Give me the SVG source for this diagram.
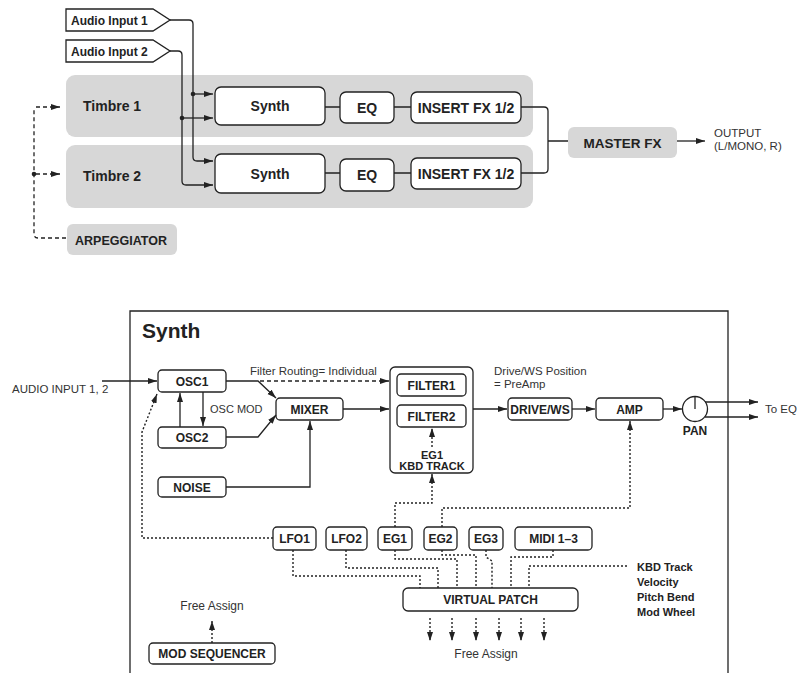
<svg xmlns="http://www.w3.org/2000/svg" width="798" height="673" viewBox="0 0 798 673">
<style>
.bg{fill:#fff}
.gray{fill:#d7d7d7;stroke:none}
.box{fill:#fff;stroke:#222;stroke-width:1.3}
.ln{fill:none;stroke:#222;stroke-width:1.3}
.dash{fill:none;stroke:#222;stroke-width:1.3;stroke-dasharray:4 3}
.dot{fill:none;stroke:#222;stroke-width:1.4;stroke-dasharray:2 2}
.b{font-family:"Liberation Sans",Arial,sans-serif;font-weight:bold;fill:#222}
.r{font-family:"Liberation Sans",Arial,sans-serif;fill:#333}
.m{text-anchor:middle}
</style>
<defs>
<marker id="ah" markerUnits="userSpaceOnUse" markerWidth="9" markerHeight="7" refX="9" refY="3.5" orient="auto">
<path d="M0,0.5 L9,3.5 L0,6.5 Z" fill="#222"/>
</marker>
</defs>
<rect class="bg" width="798" height="673"/>

<!-- top section nodes -->
<g id="timbre1">
<rect class="gray" x="66" y="75" width="467" height="62" rx="9"/>
<text class="b" x="83" y="111" font-size="14">Timbre 1</text>
</g>
<g id="timbre2">
<rect class="gray" x="66" y="145" width="467" height="63" rx="9"/>
<text class="b" x="83" y="181" font-size="14">Timbre 2</text>
</g>
<g id="audio-input-1">
<path class="box" d="M66,9 H153 L170,20 L153,31 H66 Z"/>
<text class="b" x="71" y="25" font-size="12">Audio Input 1</text>
</g>
<g id="audio-input-2">
<path class="box" d="M66,40 H153 L170,51 L153,62 H66 Z"/>
<text class="b" x="71" y="56" font-size="12">Audio Input 2</text>
</g>
<g id="synth-t1">
<rect class="box" x="215" y="87" width="110" height="38" rx="6"/>
<text class="b m" x="270" y="111" font-size="14">Synth</text>
</g>
<g id="eq-t1">
<rect class="box" x="340" y="92" width="54" height="31" rx="6"/>
<text class="b m" x="367" y="112.5" font-size="14">EQ</text>
</g>
<g id="ifx-t1">
<rect class="box" x="411" y="92" width="110" height="31" rx="6"/>
<text class="b m" x="466" y="112.5" font-size="14">INSERT FX 1/2</text>
</g>
<g id="synth-t2">
<rect class="box" x="215" y="154" width="110" height="39" rx="6"/>
<text class="b m" x="270" y="178.5" font-size="14">Synth</text>
</g>
<g id="eq-t2">
<rect class="box" x="340" y="159" width="54" height="32" rx="6"/>
<text class="b m" x="367" y="180" font-size="14">EQ</text>
</g>
<g id="ifx-t2">
<rect class="box" x="411" y="158" width="110" height="31" rx="6"/>
<text class="b m" x="466" y="178.5" font-size="14">INSERT FX 1/2</text>
</g>
<g id="master-fx">
<rect class="gray" x="568" y="127" width="109" height="31" rx="6"/>
<text class="b m" x="622.5" y="147.5" font-size="13.5">MASTER FX</text>
</g>
<g id="output">
<text class="r" x="714" y="137" font-size="11.5">OUTPUT</text>
<text class="r" x="714" y="150" font-size="11.5">(L/MONO, R)</text>
</g>
<g id="arpeggiator">
<rect class="gray" x="67" y="224" width="110" height="31" rx="6"/>
<text class="b" x="75" y="245" font-size="12.5">ARPEGGIATOR</text>
</g>

<!-- bottom section nodes -->
<g id="synth-frame">
<path class="ln" d="M130,673 V311 H728 V673"/>
<text class="b" x="142" y="338" font-size="21">Synth</text>
</g>
<g id="audio-input-label">
<text class="r" x="12" y="393" font-size="11.5">AUDIO INPUT 1, 2</text>
</g>
<g id="osc1">
<rect class="box" x="158" y="370" width="68" height="22" rx="4"/>
<text class="b m" x="192" y="385.5" font-size="12">OSC1</text>
</g>
<g id="osc2">
<rect class="box" x="158" y="427" width="68" height="21" rx="4"/>
<text class="b m" x="192" y="442" font-size="12">OSC2</text>
</g>
<g id="noise">
<rect class="box" x="158" y="477" width="68" height="20" rx="4"/>
<text class="b m" x="192" y="491.5" font-size="12">NOISE</text>
</g>
<g id="mixer">
<rect class="box" x="276" y="398" width="67" height="22" rx="4"/>
<text class="b m" x="309.5" y="413.5" font-size="12">MIXER</text>
</g>
<g id="filter-block">
<rect class="box" x="390" y="367" width="83" height="106" rx="5"/>
<text class="b m" x="432" y="459" font-size="11">EG1</text>
<text class="b m" x="432" y="470" font-size="11">KBD TRACK</text>
</g>
<g id="filter1">
<rect class="box" x="397" y="374" width="69" height="22" rx="4"/>
<text class="b m" x="431.5" y="389.5" font-size="12">FILTER1</text>
</g>
<g id="filter2">
<rect class="box" x="397" y="405" width="69" height="22" rx="4"/>
<text class="b m" x="431.5" y="420.5" font-size="12">FILTER2</text>
</g>
<g id="drive-ws">
<rect class="box" x="508" y="398" width="64" height="22" rx="4"/>
<text class="b m" x="540" y="413.5" font-size="12">DRIVE/WS</text>
</g>
<g id="amp">
<rect class="box" x="596" y="398" width="67" height="22" rx="4"/>
<text class="b m" x="629.5" y="413.5" font-size="12">AMP</text>
</g>
<g id="pan">
<circle class="box" cx="695" cy="409" r="12.5"/>
<line class="ln" x1="695" y1="409" x2="695" y2="396.5"/>
<text class="b m" x="695" y="435" font-size="12">PAN</text>
</g>
<g id="to-eq">
<text class="r" x="765" y="413" font-size="11.5">To EQ</text>
</g>
<g id="lfo1">
<rect class="box" x="273" y="527" width="43" height="23" rx="4"/>
<text class="b m" x="294.5" y="543" font-size="12">LFO1</text>
</g>
<g id="lfo2">
<rect class="box" x="326" y="527" width="41" height="23" rx="4"/>
<text class="b m" x="346.5" y="543" font-size="12">LFO2</text>
</g>
<g id="eg1">
<rect class="box" x="378" y="527" width="34" height="23" rx="4"/>
<text class="b m" x="395" y="543" font-size="12">EG1</text>
</g>
<g id="eg2">
<rect class="box" x="424" y="527" width="33" height="23" rx="4"/>
<text class="b m" x="440.5" y="543" font-size="12">EG2</text>
</g>
<g id="eg3">
<rect class="box" x="469" y="527" width="34" height="23" rx="4"/>
<text class="b m" x="486" y="543" font-size="12">EG3</text>
</g>
<g id="midi">
<rect class="box" x="515" y="527" width="77" height="23" rx="4"/>
<text class="b m" x="553.5" y="543" font-size="12">MIDI 1–3</text>
</g>
<g id="virtual-patch">
<rect class="box" x="403" y="588" width="175" height="23" rx="5"/>
<text class="b m" x="490.5" y="604" font-size="12">VIRTUAL PATCH</text>
</g>
<g id="controllers">
<text class="b" x="637" y="571" font-size="11">KBD Track</text>
<text class="b" x="637" y="586" font-size="11">Velocity</text>
<text class="b" x="637" y="601" font-size="11">Pitch Bend</text>
<text class="b" x="637" y="616" font-size="11">Mod Wheel</text>
</g>
<g id="mod-sequencer">
<rect class="box" x="149" y="643" width="126" height="21" rx="4"/>
<text class="b m" x="212" y="658" font-size="12">MOD SEQUENCER</text>
</g>
<g id="free-assign-labels">
<text class="r m" x="212" y="610" font-size="12">Free Assign</text>
<text class="r m" x="486" y="658" font-size="12">Free Assign</text>
</g>
<g id="labels">
<text class="r" x="250" y="375" font-size="11.5">Filter Routing= Individual</text>
<text class="r" x="210" y="413" font-size="11">OSC MOD</text>
<text class="r" x="494" y="375" font-size="11.5">Drive/WS Position</text>
<text class="r" x="494" y="388" font-size="11.5">= PreAmp</text>
</g>

<!-- connectors -->
<g id="connectors">
<!-- top -->
<path class="ln" d="M170,20 H189 Q193,20 193,24 V157 Q193,161 197,161 H213" marker-end="url(#ah)"/>
<path class="ln" d="M170,51 H178 Q182,51 182,55 V181 Q182,185 186,185 H213" marker-end="url(#ah)"/>
<path class="ln" d="M193,94 H213" marker-end="url(#ah)"/>
<path class="ln" d="M182,118 H213" marker-end="url(#ah)"/>
<circle cx="193" cy="94" r="2.3" fill="#222"/>
<circle cx="182" cy="118" r="2.3" fill="#222"/>
<path class="ln" d="M325,107 H340 M394,107 H411 M325,173 H340 M394,173 H411"/>
<path class="ln" d="M521,107 H544 Q548,107 548,111 V169 Q548,173 544,173 H521 M548,141 H568"/>
<path class="ln" d="M677,141 H705" marker-end="url(#ah)"/>
<path class="dash" d="M66,238 H38 Q34,238 34,234 V108"/>
<path class="dash" d="M36,107 H60" marker-end="url(#ah)"/>
<path class="dash" d="M36,174 H60" marker-end="url(#ah)"/>
<circle cx="34" cy="174" r="2.3" fill="#222"/>
<!-- bottom -->
<path class="ln" d="M102,381 H157" marker-end="url(#ah)"/>
<path class="ln" d="M180,427 V393" marker-end="url(#ah)"/>
<path class="ln" d="M203,392 V426" marker-end="url(#ah)"/>
<path class="ln" d="M226,381 H258 L276,398" marker-end="url(#ah)"/>
<path class="ln" d="M226,437 H258 L276,415" marker-end="url(#ah)"/>
<path class="ln" d="M226,487 H310 V421" marker-end="url(#ah)"/>
<path class="dash" d="M260,381 H389" marker-end="url(#ah)"/>
<path class="ln" d="M343,409 H389" marker-end="url(#ah)"/>
<path class="ln" d="M473,409 H507" marker-end="url(#ah)"/>
<path class="ln" d="M572,409 H595" marker-end="url(#ah)"/>
<path class="ln" d="M663,409 H682" marker-end="url(#ah)"/>
<path class="ln" d="M705,402 H758" marker-end="url(#ah)"/>
<path class="ln" d="M705,417 H758" marker-end="url(#ah)"/>
<path class="dot" d="M432,447 V428" marker-end="url(#ah)"/>
<path class="dot" d="M395,527 V503 H432 V474" marker-end="url(#ah)"/>
<path class="dot" d="M442,527 V508 H630 V421" marker-end="url(#ah)"/>
<path class="dot" d="M273,538 H142 V432 L157,394" marker-end="url(#ah)"/>
<path class="dot" d="M293,550 V576 H420 V588"/>
<path class="dot" d="M346,550 V568 H438 V588"/>
<path class="dot" d="M395,550 V559 H457 V588"/>
<path class="dot" d="M442,550 V555 H476 V588"/>
<path class="dot" d="M486,550 V557 L492,561 V588"/>
<path class="dot" d="M553,550 V557 H511 V588"/>
<path class="dot" d="M627,566 H529 V588"/>
<path class="dot" d="M430,618 V641" marker-end="url(#ah)"/>
<path class="dot" d="M452,618 V641" marker-end="url(#ah)"/>
<path class="dot" d="M476,618 V641" marker-end="url(#ah)"/>
<path class="dot" d="M499,618 V641" marker-end="url(#ah)"/>
<path class="dot" d="M521,618 V641" marker-end="url(#ah)"/>
<path class="dot" d="M544,618 V641" marker-end="url(#ah)"/>
<path class="dot" d="M212,643 V621" marker-end="url(#ah)"/>
</g>
</svg>
